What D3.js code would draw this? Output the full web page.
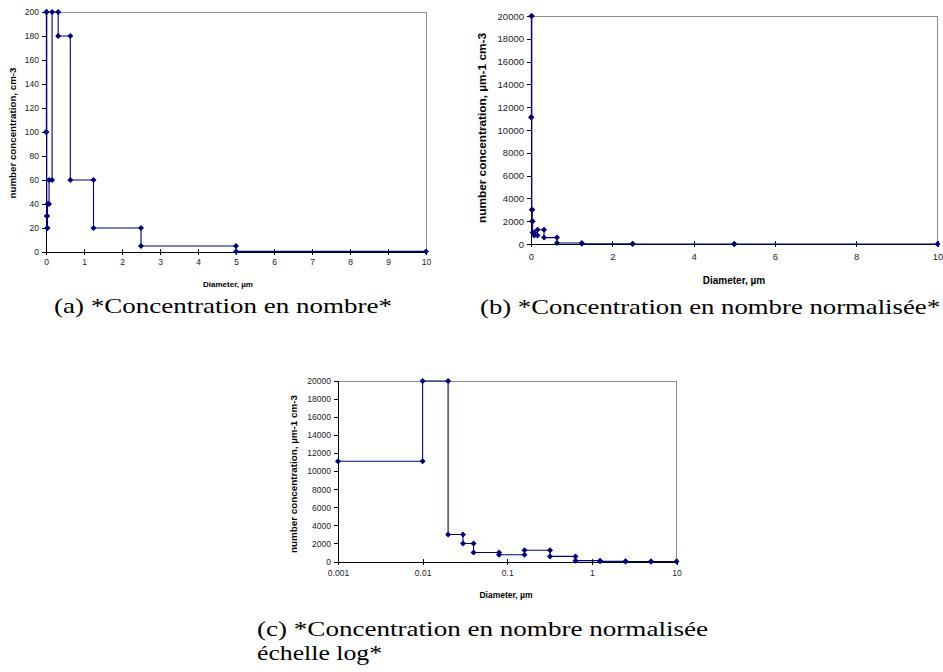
<!DOCTYPE html>
<html>
<head>
<meta charset="utf-8">
<script src="https://cdn.jsdelivr.net/npm/d3@7"></script>
<style>
  html, body { margin: 0; padding: 0; background: #fff; }
  svg { display: block; }
</style>
</head>
<body>
<svg id="chart" width="943" height="672"></svg>
<script>
// ---- data ----
const binEdges = [0.001, 0.01, 0.02, 0.03, 0.04, 0.08, 0.16, 0.32, 0.64, 1.25, 2.5, 5, 10];
const countValues = [100, 200, 30, 20, 40, 60, 200, 180, 60, 20, 5, 0.5];           // cm-3
const normalizedValues = [11111, 20000, 3000, 2000, 1000, 750, 1250, 562.5, 93.75, 16, 2, 0.1]; // µm-1 cm-3

const ticksA_x = [0, 1, 2, 3, 4, 5, 6, 7, 8, 9, 10];
const ticksA_y = [0, 20, 40, 60, 80, 100, 120, 140, 160, 180, 200];
const ticksB_x = [0, 2, 4, 6, 8, 10];
const ticksNorm_y = [0, 2000, 4000, 6000, 8000, 10000, 12000, 14000, 16000, 18000, 20000];
const ticksC_x = [0.001, 0.01, 0.1, 1, 10];
const ticksC_labels = ["0.001", "0.01", "0.1", "1", "10"];

const xTitle = "Diameter, \u00b5m";
const yTitleA = "number concentration, cm-3";
const yTitleNorm = "number concentration,  \u00b5m-1 cm-3";
const captions = {
  a: ["(a) *Concentration en nombre*"],
  b: ["(b) *Concentration en nombre normalis\u00e9e*"],
  c: ["(c) *Concentration en nombre normalis\u00e9e", "\u00e9chelle log*"]
};

// step series: each bin contributes (left, v) and (right, v)
function stepPoints(values) {
  const pts = [];
  values.forEach((v, i) => {
    pts.push([binEdges[i], v]);
    pts.push([binEdges[i + 1], v]);
  });
  return pts;
}

const svg = d3.select("#chart");
const SANS = "'Liberation Sans', Arial, sans-serif";
const SERIF = "'Liberation Serif', 'Times New Roman', serif";
const NAVY = "#000080";

function drawPanel(p) {
  const g = svg.append("g");
  const x = p.log
    ? d3.scaleLog().domain([0.001, 10]).range([p.x0, p.x1])
    : d3.scaleLinear().domain([0, 10]).range([p.x0, p.x1]);
  const y = d3.scaleLinear().domain([0, p.yMax]).range([p.y1, p.y0]);

  // plot-area border (top & right gray)
  g.append("path")
    .attr("d", `M${p.x0},${p.y0}H${p.x1}V${p.y1}`)
    .attr("fill", "none").attr("stroke", "#8c8c8c").attr("stroke-width", 1)
    .attr("shape-rendering", "crispEdges");

  // y axis
  const yAxis = d3.axisLeft(y).tickValues(p.yTicks).tickSize(4).tickPadding(3)
    .tickFormat(d3.format("d"));
  const ya = g.append("g").attr("transform", `translate(${p.x0},0)`).call(yAxis);
  ya.select(".domain").attr("stroke", "#000").attr("shape-rendering", "crispEdges");
  ya.selectAll(".tick line").attr("stroke", "#000").attr("shape-rendering", "crispEdges");
  ya.selectAll(".tick text").attr("font-family", SANS).attr("font-size", p.fs).attr("fill", "#222");

  // x axis
  const xAxis = d3.axisBottom(x).tickValues(p.xTicks).tickSize(3).tickPadding(p.xPad)
    .tickFormat((d, i) => p.xLabels ? p.xLabels[i] : d3.format("d")(d));
  const xa = g.append("g").attr("transform", `translate(0,${p.y1})`).call(xAxis);
  xa.select(".domain").attr("stroke", "#000").attr("shape-rendering", "crispEdges");
  xa.selectAll(".tick line").attr("stroke", "#000").attr("y1", -3).attr("shape-rendering", "crispEdges");
  xa.selectAll(".tick text").attr("font-family", SANS).attr("font-size", p.fs).attr("fill", "#222");

  // series
  const pts = stepPoints(p.values);
  const line = d3.line().x(d => x(d[0])).y(d => y(d[1]));
  g.append("path").datum(pts)
    .attr("d", line)
    .attr("fill", "none").attr("stroke", NAVY).attr("stroke-width", 1.1);
  const dm = 3;
  g.selectAll(".mk").data(pts).enter().append("path")
    .attr("transform", d => `translate(${x(d[0])},${y(d[1])})`)
    .attr("d", `M0,${-dm}L${dm},0L0,${dm}L${-dm},0Z`)
    .attr("fill", NAVY);

  // titles
  g.append("text")
    .attr("x", p.xtX).attr("y", p.xtY)
    .attr("text-anchor", "middle").attr("font-family", SANS)
    .attr("font-weight", "bold").attr("font-size", p.xtfs).text(xTitle);
  g.append("text")
    .attr("transform", `translate(${p.ytX},${p.ytY}) rotate(-90)`)
    .attr("text-anchor", "middle").attr("font-family", SANS)
    .attr("font-weight", "bold").attr("font-size", p.ytfs)
    .attr("textLength", p.ytLen).attr("lengthAdjust", "spacingAndGlyphs")
    .text(p.yTitle);

  // caption
  p.caption.forEach((t, i) => {
    const c = p.cap[i];
    g.append("text")
      .attr("x", c.x).attr("y", c.y)
      .attr("font-family", SERIF).attr("font-size", 21)
      .attr("textLength", c.w).attr("lengthAdjust", "spacingAndGlyphs")
      .text(t);
  });
}

drawPanel({
  x0: 46, x1: 426, y0: 12, y1: 252, yMax: 200, log: false,
  xTicks: ticksA_x, yTicks: ticksA_y, values: countValues,
  fs: 8.5, xPad: 4, yTitle: yTitleA,
  xtX: 228, xtY: 287, xtfs: 8,
  ytX: 16, ytY: 133, ytfs: 8.5, ytLen: 131,
  caption: captions.a, cap: [{ x: 54, y: 313, w: 338 }]
});

drawPanel({
  x0: 531, x1: 937.5, y0: 16, y1: 244, yMax: 20000, log: false,
  xTicks: ticksB_x, yTicks: ticksNorm_y, values: normalizedValues,
  fs: 9.5, xPad: 6, yTitle: yTitleNorm,
  xtX: 734, xtY: 284, xtfs: 10,
  ytX: 486, ytY: 128, ytfs: 11, ytLen: 190,
  caption: captions.b, cap: [{ x: 480, y: 314, w: 460 }]
});

drawPanel({
  x0: 338, x1: 676.5, y0: 381, y1: 561.5, yMax: 20000, log: true,
  xTicks: ticksC_x, yTicks: ticksNorm_y, values: normalizedValues, xLabels: ticksC_labels,
  fs: 8.5, xPad: 5, yTitle: yTitleNorm,
  xtX: 506, xtY: 598, xtfs: 8.5,
  ytX: 297, ytY: 474, ytfs: 9, ytLen: 158,
  caption: captions.c, cap: [{ x: 257, y: 636, w: 451 }, { x: 257, y: 660, w: 125 }]
});
</script>
</body>
</html>
